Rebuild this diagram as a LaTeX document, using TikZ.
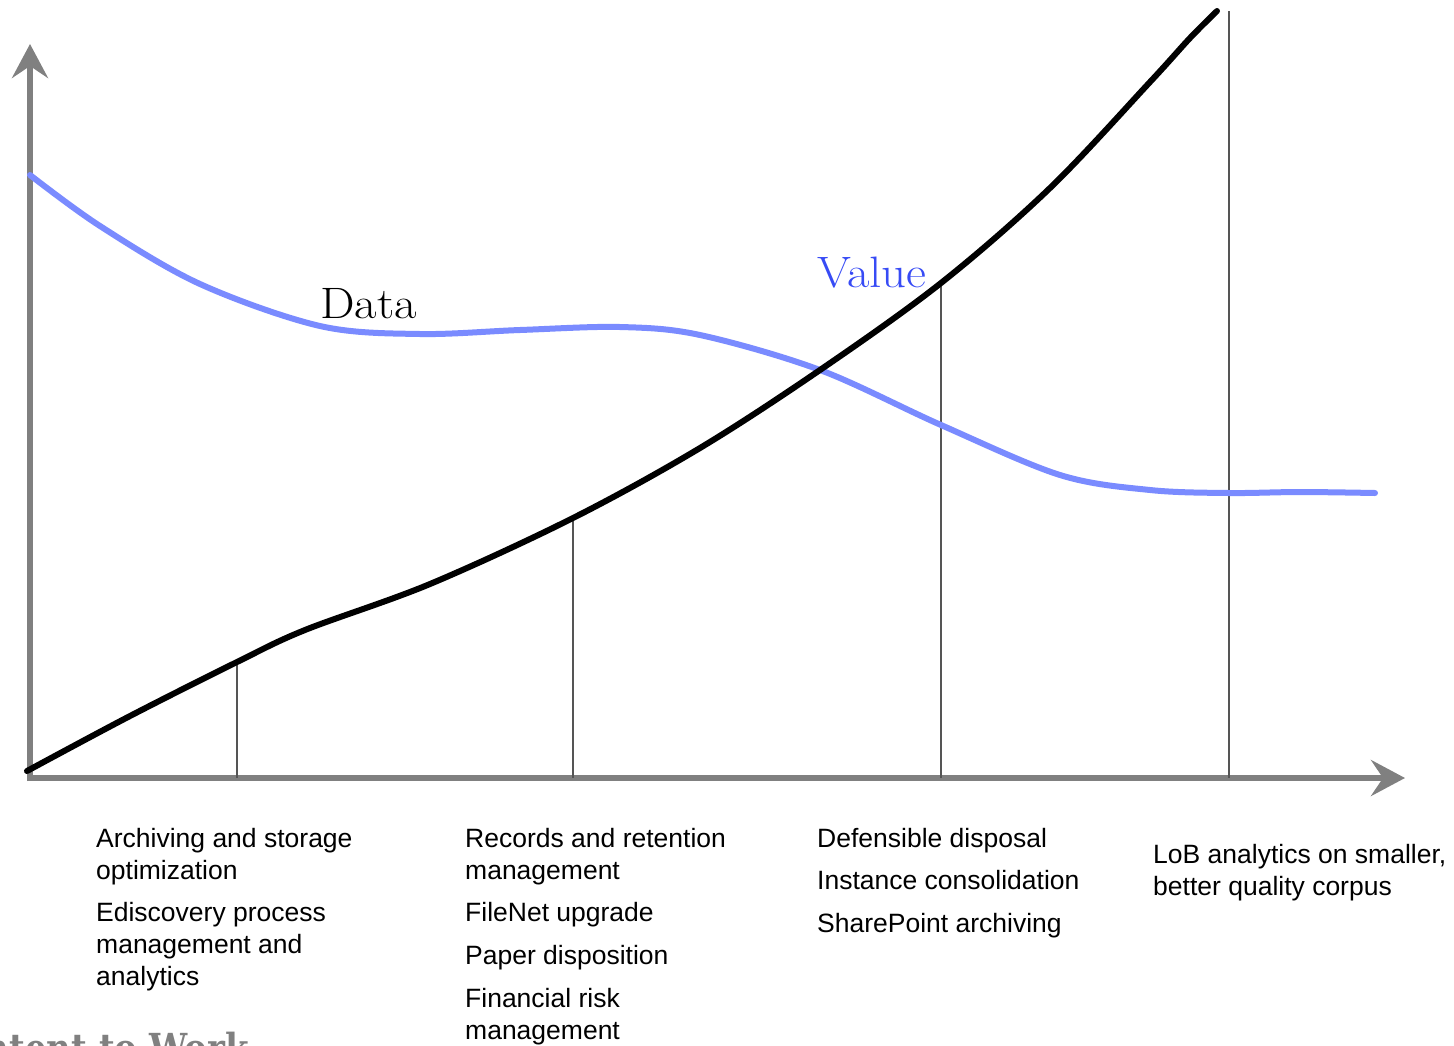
\documentclass[tikz,border=0pt]{standalone}
\usepackage{fontspec}
\setmainfont{Latin Modern Roman}
\newfontfamily\labelfont{Liberation Sans}
\newfontfamily\slabfont{DejaVu Serif}
\usetikzlibrary{arrows.meta}
\definecolor{axisgray}{RGB}{128,128,128}
\definecolor{datablue}{RGB}{122,139,255}
\definecolor{valueblue}{RGB}{55,75,245}
\definecolor{ticklines}{RGB}{85,85,85}
\tikzset{
  axisline/.style={draw=axisgray, line width=6.5pt, -{Stealth[length=34pt,width=36pt,inset=12pt]}},
  valuecurve/.style={draw=black, line width=6pt, line cap=round, line join=round},
  datacurve/.style={draw=datablue, line width=6pt, line cap=round, line join=round},
  dropline/.style={draw=ticklines, line width=1.3pt},
  item/.style={anchor=base west, inner sep=0pt, align=left,
    font=\labelfont\fontsize{26.5}{32}\selectfont},
  bigword/.style={anchor=base west, inner sep=0pt, xscale=1.11, font=\fontsize{44}{50}\selectfont}
}
\begin{document}
\begin{tikzpicture}[x=1pt,y=-1pt]
\useasboundingbox (0,0) rectangle (1454,1045);
\clip (0,0) rectangle (1454,1045);
% partially visible footer text
\node[anchor=base east, inner sep=0pt, text=axisgray, xscale=0.85,
  font=\slabfont\bfseries\fontsize{40}{44}\selectfont] (footer) at (249,1062) {Content to Work};
% axes
\coordinate (origin) at (30,778);
\coordinate (ytip) at (30,44);
\coordinate (xtip) at (1405,778);
\draw[axisline] (30,781) -- (ytip);
\draw[axisline] (27,778) -- (xtip);
% curve points
\coordinate (v1) at (237,662);
\coordinate (v2) at (573,518);
\coordinate (v3) at (941,283);
\coordinate (v4) at (1229,11);
% drop lines
\draw[dropline] (v1) -- (v1 |- origin);
\draw[dropline] (v2) -- (v2 |- origin);
\draw[dropline] (v3) -- (v3 |- origin);
\draw[dropline] (v4) -- (v4 |- origin);
% data curve
\draw[datacurve] plot[smooth, tension=0.55] coordinates {
  (30,175) (100,226) (200,284) (320,326) (420,334) (520,330) (620,327)
  (700,335) (820,370) (941,425) (1060,475) (1150,490) (1229,493) (1300,492) (1375,493)};
% value curve
\draw[valuecurve] plot[smooth, tension=0.55] coordinates {
  (27,771) (130,716) (237,662) (305,630) (430,584) (573,518)
  (700,448) (820,370) (941,283) (1050,188) (1150,82) (1190,38) (1217,11)};
% curve labels
\node[bigword] (data) at (320,318) {Data};
\node[bigword, text=valueblue] (value) at (817,287) {Value};
% column 1 (base anchor = last line's baseline)
\node[item] (a1) at (96,879) {Archiving and storage\\optimization};
\node[item] (a2) at (96,985) {Ediscovery process\\management and\\analytics};
% column 2
\node[item] (b1) at (465,879) {Records and retention\\management};
\node[item] (b2) at (465,921) {FileNet upgrade};
\node[item] (b3) at (465,964) {Paper disposition};
\node[item] (b4) at (465,1039) {Financial risk\\management};
% column 3
\node[item] (c1) at (817,847) {Defensible disposal};
\node[item] (c2) at (817,889) {Instance consolidation};
\node[item] (c3) at (817,932) {SharePoint archiving};
% column 4
\node[item] (d1) at (1153,895) {LoB analytics on smaller,\\better quality corpus};
\end{tikzpicture}
\end{document}
